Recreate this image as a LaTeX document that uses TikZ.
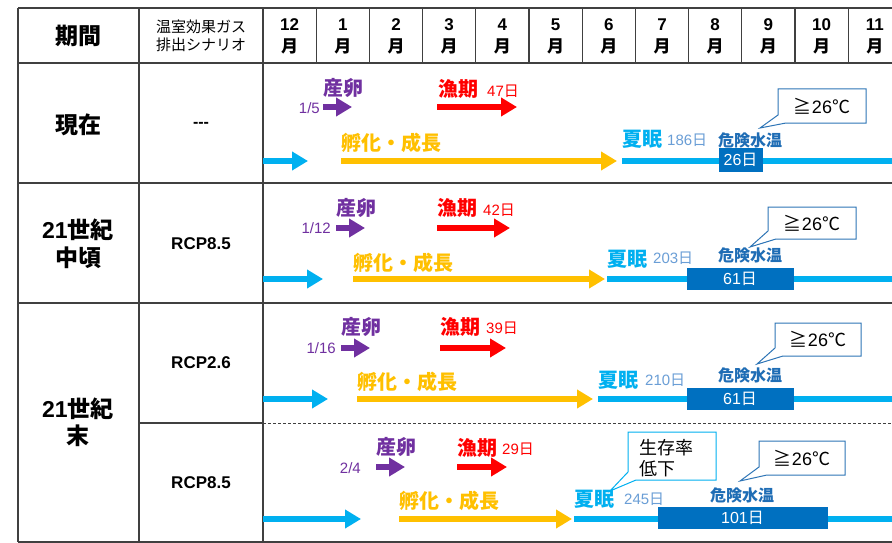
\documentclass[tikz,border=0pt]{standalone}
\usepackage{fontspec}
\setmainfont{Liberation Sans}
\newfontfamily\jp{Noto Sans CJK JP}
\usetikzlibrary{arrows.meta}
\definecolor{cpurple}{HTML}{7030A0}
\definecolor{cred}{HTML}{FF0000}
\definecolor{cyel}{HTML}{FFC000}
\definecolor{clblue}{HTML}{00B0F0}
\definecolor{cdblue}{HTML}{0070C0}
\definecolor{cgblue}{HTML}{6A9ED6}
\definecolor{ctxtblue}{HTML}{1F6DB5}
\definecolor{ccall}{HTML}{2E75B6}
\definecolor{cgrid}{HTML}{404040}
\newcommand\fsz[1]{\fontsize{#1}{#1}\selectfont}
\newcommand\jt[1]{{\jp #1}}
\newcommand\callout[7]{\draw[#7, line width=1pt, fill=white] (#1,#2) -- (#3,#2) -- (#3,#4) -- ({#1+8},#4) -- (#5,#6) -- (#1,{#4-8}) -- cycle;}
\tikzset{
  txt/.style={inner sep=0pt, anchor=west},
  ctr/.style={inner sep=0pt, anchor=center},
  fatarrow/.style={line width=6.5pt, -{Triangle[length=16pt,width=18pt]}},
  sleepline/.style={line width=6pt, draw=clblue},
  gridline/.style={line width=1.3pt, draw=cgrid},
  bigjp/.style={font={\fsz{20}\bfseries\jp}},
  smallnum/.style={font=\fsz{15}},
  danger/.style={fill=cdblue, draw=cdblue, text=white, font=\fsz{16}, inner sep=0pt},
}
\begin{document}
\begin{tikzpicture}[x=1pt,y=-1pt]
\useasboundingbox (0,0) rectangle (892,543);
\fill[white] (0,0) rectangle (892,543);
% ---------- grid ----------
\draw[gridline] (18,8) -- (892,8);
\draw[gridline] (18,63) -- (892,63);
\draw[gridline] (18,183) -- (892,183);
\draw[gridline] (18,303) -- (892,303);
\draw[gridline] (18,542) -- (892,542);
\draw[gridline] (139,423) -- (263,423);
\draw[gridline, line width=1pt, dash pattern=on 3pt off 2pt] (263,423) -- (892,423);
\draw[gridline] (18,8) -- (18,542);
\draw[gridline] (139,8) -- (139,542);
\draw[gridline] (263,8) -- (263,542);
\foreach \k in {1,...,11} \draw[gridline] ({263+53.2*\k},8) -- ({263+53.2*\k},63);
% ---------- header ----------
\node[ctr, font={\fsz{23}\bfseries\jp}] (hperiod) at (78,36) {期間};
\node[ctr, font={\fsz{15}\jp}] (hscen1) at (201,27) {温室効果ガス};
\node[ctr, font={\fsz{15}\jp}] (hscen2) at (201,45) {排出シナリオ};
\foreach \m [count=\i from 0] in {12,1,2,3,4,5,6,7,8,9,10,11} {
  \node[ctr, font={\fsz{17}\bfseries}] (mn\i) at ({263+53.2*\i+26.6},25) {\m};
  \node[ctr, font={\fsz{17}\bfseries\jp}] (mj\i) at ({263+53.2*\i+26.6},46) {月};
}
% ---------- left columns ----------
\node[ctr, font={\fsz{23}\bfseries\jp}] (p1) at (78,125) {現在};
\node[ctr, font={\fsz{16}\bfseries}] (s1) at (201,125) {-{}-{}-};
\node[ctr, font={\fsz{23}\bfseries}] (p2a) at (78,230) {21\jt{世紀}};
\node[ctr, font={\fsz{23}\bfseries\jp}] (p2b) at (78,258) {中頃};
\node[ctr, font={\fsz{17}\bfseries}] (s2) at (201,244) {RCP8.5};
\node[ctr, font={\fsz{23}\bfseries}] (p3a) at (78,409) {21\jt{世紀}};
\node[ctr, font={\fsz{23}\bfseries\jp}] (p3b) at (78,436) {末};
\node[ctr, font={\fsz{17}\bfseries}] (s3) at (201,363) {RCP2.6};
\node[ctr, font={\fsz{17}\bfseries}] (s4) at (201,483) {RCP8.5};

% ================= Row 1 =================
\draw[fatarrow, draw=clblue] (263,161) -- (308,161);
\draw[fatarrow, draw=cyel] (341,161) -- (617,161);
\draw[sleepline] (622,161) -- (892,161);
\node[danger, minimum width=43pt, minimum height=23pt] (d1) at (740.5,160) {26\jt{日}};
\node[txt, bigjp, text=cpurple] (sp1) at (323,88) {産卵};
\node[ctr, smallnum, text=cpurple, anchor=east] (dt1) at (320,108) {1/5};
\draw[fatarrow, draw=cpurple] (323,107) -- (352,107);
\node[txt, bigjp, text=cred] (fi1) at (438,89) {漁期};
\node[txt, smallnum, text=cred] (fn1) at (487,91) {47\jt{日}};
\draw[fatarrow, draw=cred] (437,107) -- (517,107);
\node[txt, bigjp, text=cyel] (gr1) at (341,143) {孵化・成長};
\node[txt, bigjp, text=clblue] (su1) at (622,139) {夏眠};
\node[txt, smallnum, text=cgblue] (sn1) at (667,140) {186\jt{日}};
\node[ctr, font={\fsz{16}\bfseries\jp}, text=ctxtblue] (dw1) at (750,140) {危険水温};
\callout{778}{89}{866}{123}{760}{128}{draw=ccall}
\node[ctr, font={\fsz{18}}] (c1) at (822,106) {\jt{≧}26\jt{℃}};

% ================= Row 2 =================
\draw[fatarrow, draw=clblue] (263,279) -- (323,279);
\draw[fatarrow, draw=cyel] (353,279) -- (605,279);
\draw[sleepline] (607,279) -- (892,279);
\node[danger, minimum width=106pt, minimum height=21pt] (d2) at (740,278.5) {61\jt{日}};
\node[txt, bigjp, text=cpurple] (sp2) at (336,207.5) {産卵};
\node[ctr, smallnum, text=cpurple, anchor=east] (dt2) at (331,228) {1/12};
\draw[fatarrow, draw=cpurple] (336,228) -- (365,228);
\node[txt, bigjp, text=cred] (fi2) at (437,208) {漁期};
\node[txt, smallnum, text=cred] (fn2) at (483,210) {42\jt{日}};
\draw[fatarrow, draw=cred] (437,228) -- (510,228);
\node[txt, bigjp, text=cyel] (gr2) at (353,263) {孵化・成長};
\node[txt, bigjp, text=clblue] (su2) at (607,259) {夏眠};
\node[txt, smallnum, text=cgblue] (sn2) at (653,258) {203\jt{日}};
\node[ctr, font={\fsz{16}\bfseries\jp}, text=ctxtblue] (dw2) at (750,255) {危険水温};
\callout{768}{207}{856}{239}{750}{247}{draw=ccall}
\node[ctr, font={\fsz{18}}] (c2) at (812,223) {\jt{≧}26\jt{℃}};

% ================= Row 3 =================
\draw[fatarrow, draw=clblue] (263,399) -- (328,399);
\draw[fatarrow, draw=cyel] (357,399) -- (593,399);
\draw[sleepline] (598,399) -- (892,399);
\node[danger, minimum width=106pt, minimum height=21pt] (d3) at (740,398.5) {61\jt{日}};
\node[txt, bigjp, text=cpurple] (sp3) at (341,327) {産卵};
\node[ctr, smallnum, text=cpurple, anchor=east] (dt3) at (336,348) {1/16};
\draw[fatarrow, draw=cpurple] (341,348) -- (370,348);
\node[txt, bigjp, text=cred] (fi3) at (440,327) {漁期};
\node[txt, smallnum, text=cred] (fn3) at (486,328) {39\jt{日}};
\draw[fatarrow, draw=cred] (440,348) -- (506,348);
\node[txt, bigjp, text=cyel] (gr3) at (357,382) {孵化・成長};
\node[txt, bigjp, text=clblue] (su3) at (598,380) {夏眠};
\node[txt, smallnum, text=cgblue] (sn3) at (645,380) {210\jt{日}};
\node[ctr, font={\fsz{16}\bfseries\jp}, text=ctxtblue] (dw3) at (750,375) {危険水温};
\callout{775}{323}{861}{356}{757}{364}{draw=ccall}
\node[ctr, font={\fsz{18}}] (c3) at (818,339.5) {\jt{≧}26\jt{℃}};

% ================= Row 4 =================
\draw[fatarrow, draw=clblue] (263,519) -- (361,519);
\draw[fatarrow, draw=cyel] (399,519) -- (572,519);
\draw[sleepline] (574,519) -- (892,519);
\node[danger, minimum width=169pt, minimum height=21pt] (d4) at (742.5,517.5) {101\jt{日}};
\node[txt, bigjp, text=cpurple] (sp4) at (376,447) {産卵};
\node[ctr, smallnum, text=cpurple, anchor=east] (dt4) at (361,468) {2/4};
\draw[fatarrow, draw=cpurple] (376,467) -- (405,467);
\node[txt, bigjp, text=cred] (fi4) at (457,448) {漁期};
\node[txt, smallnum, text=cred] (fn4) at (502,449) {29\jt{日}};
\draw[fatarrow, draw=cred] (457,467) -- (507,467);
\node[txt, bigjp, text=cyel] (gr4) at (399,501) {孵化・成長};
\node[txt, bigjp, text=clblue] (su4) at (574,499) {夏眠};
\node[txt, smallnum, text=cgblue] (sn4) at (624,499) {245\jt{日}};
\node[ctr, font={\fsz{16}\bfseries\jp}, text=ctxtblue] (dw4) at (742,495) {危険水温};
\callout{759}{441}{845}{475}{740}{481}{draw=ccall}
\node[ctr, font={\fsz{18}}] (c4) at (802,458) {\jt{≧}26\jt{℃}};
\callout{628}{432}{716}{480}{610}{491}{draw=clblue}
\node[txt, font={\fsz{18}\jp}] (sv1) at (639,447.5) {生存率};
\node[txt, font={\fsz{18}\jp}] (sv2) at (639,469) {低下};
\end{tikzpicture}
\end{document}
